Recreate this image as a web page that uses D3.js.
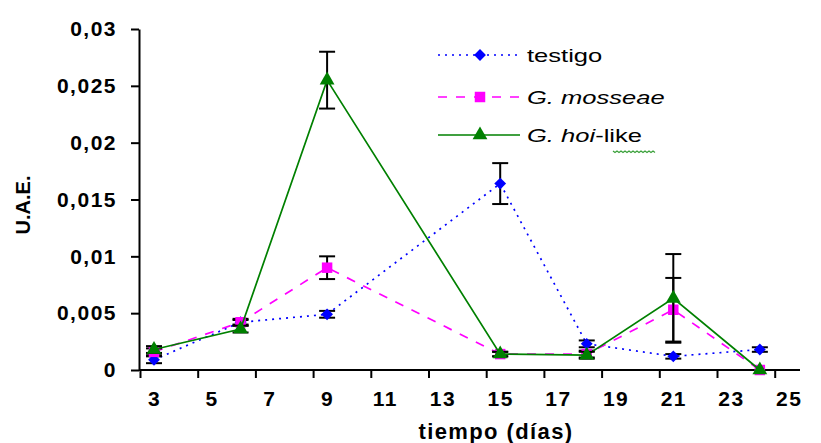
<!DOCTYPE html>
<html>
<head>
<meta charset="utf-8">
<script src="https://cdn.jsdelivr.net/npm/d3@7"></script>
<style>
  body { margin: 0; background: #fff; }
  svg { display: block; font-family: Arial, "Liberation Sans", sans-serif; }
</style>
</head>
<body>
<svg id="chart" width="821" height="443"></svg>
<script>
// days (x) and values
const days = [3, 6, 9, 15, 18, 21, 24];
const testigo = [0.0009, 0.0042, 0.0049, 0.0164, 0.0023, 0.0012, 0.0018];
const testigoErr = [0.0003, 0.0002, 0.0003, 0.0018, 0.0003, 0.0002, 0.0002];
const mosseae = [0.0016, 0.0042, 0.0090, 0.0014, 0.0014, 0.0053, 0.0000];
const mosseaeErr = [0.0003, 0.0003, 0.0010, 0.0002, 0.0003, 0.0028, 0.0000];
const hoiLike = [0.0018, 0.0036, 0.0255, 0.0014, 0.0013, 0.0063, 0.0000];
const hoiLikeErr = [0.0003, 0.0003, 0.0025, 0.0002, 0.0003, 0.0039, 0.0000];
const xTicks = [3, 5, 7, 9, 11, 13, 15, 17, 19, 21, 23, 25];
const yTicks = [0, 0.005, 0.01, 0.015, 0.02, 0.025, 0.03];
const yTickLabels = ["0", "0,005", "0,01", "0,015", "0,02", "0,025", "0,03"];

const svg = d3.select("#chart");
const axisLeftX = 139, axisBottomY = 370;

const x = d3.scaleLinear().domain([3, 25]).range([154, 154 + 22 * 28.85]);
const y = d3.scaleLinear().domain([0, 0.03]).range([axisBottomY, 29]);

// y axis
const yAxis = d3.axisLeft(y).tickValues(yTicks)
  .tickFormat((d, i) => yTickLabels[i]).tickSize(8).tickSizeOuter(0).tickPadding(14);
const gy = svg.append("g").attr("transform", `translate(${axisLeftX},0)`).call(yAxis);
gy.select(".domain").attr("stroke", "#000").attr("stroke-width", 2);
gy.selectAll(".tick line").attr("stroke", "#000").attr("stroke-width", 2);
gy.selectAll(".tick text").attr("font-size", 21).attr("font-weight", "bold")
  .attr("letter-spacing", 1.5).attr("fill", "#000");

// x axis (Excel style: tick marks sit between the label slots)
const xAxis = d3.axisBottom(x).tickValues(xTicks).tickSize(8).tickSizeOuter(0).tickPadding(13);
const gx = svg.append("g").attr("transform", `translate(0,${axisBottomY})`).call(xAxis);
gx.select(".domain").attr("d", `M${axisLeftX},0H800`).attr("stroke", "#000").attr("stroke-width", 2);
gx.selectAll(".tick line").attr("x1", -14).attr("x2", -14).attr("stroke", "#000").attr("stroke-width", 2);
gx.selectAll(".tick text").attr("font-size", 21).attr("font-weight", "bold")
  .attr("letter-spacing", 1.5).attr("fill", "#000");

// axis titles
svg.append("text")
  .attr("transform", "translate(30,205) rotate(-90)")
  .attr("text-anchor", "middle").attr("font-size", 20).attr("font-weight", "bold")
  .text("U.A.E.");
svg.append("text")
  .attr("x", 496).attr("y", 439).attr("text-anchor", "middle")
  .attr("font-size", 22).attr("font-weight", "bold").attr("letter-spacing", 1.4)
  .text("tiempo (días)");

// diamond = square turned 45deg (wider than d3.symbolDiamond)
const series = [
  { name: "testigo", values: testigo, err: testigoErr, color: "#0000ff", dash: "2,5", symbol: d3.symbolSquare, size: 70, rot: 45 },
  { name: "mosseae", values: mosseae, err: mosseaeErr, color: "#ff00ff", dash: "9,9", symbol: d3.symbolSquare, size: 110, rot: 0 },
  { name: "hoi", values: hoiLike, err: hoiLikeErr, color: "#008000", dash: null, symbol: d3.symbolTriangle, size: 95, rot: 0 }
];

const line = d3.line().x((d, i) => x(days[i])).y(d => y(d));

series.forEach(s => {
  const g = svg.append("g");
  g.append("path").attr("d", line(s.values))
    .attr("fill", "none").attr("stroke", s.color).attr("stroke-width", 1.7)
    .attr("stroke-dasharray", s.dash);

  // error bars
  const eb = g.selectAll(".err").data(s.values.map((v, i) => ({ v, e: s.err[i], d: days[i] })).filter(o => o.e > 0))
    .join("g").attr("class", "err");
  eb.append("line").attr("x1", o => x(o.d)).attr("x2", o => x(o.d))
    .attr("y1", o => y(o.v - o.e)).attr("y2", o => y(o.v + o.e))
    .attr("stroke", "#000").attr("stroke-width", 2);
  [1, -1].forEach(sign => {
    eb.append("line").attr("x1", o => x(o.d) - 8).attr("x2", o => x(o.d) + 8)
      .attr("y1", o => y(o.v + sign * o.e)).attr("y2", o => y(o.v + sign * o.e))
      .attr("stroke", "#000").attr("stroke-width", 2);
  });

  g.selectAll(".mk").data(s.values).join("path").attr("class", "mk")
    .attr("d", d3.symbol().type(s.symbol).size(s.size))
    .attr("transform", (d, i) => `translate(${x(days[i])},${y(d)}) rotate(${s.rot})`)
    .attr("fill", s.color);
});

// legend
const legendY = [55, 97, 135];
series.forEach((s, i) => {
  const g = svg.append("g").attr("transform", `translate(438,${legendY[i]})`);
  g.append("line").attr("x1", 0).attr("x2", 82)
    .attr("stroke", s.color).attr("stroke-width", 1.7).attr("stroke-dasharray", s.dash);
  g.append("path").attr("d", d3.symbol().type(s.symbol).size(s.size)())
    .attr("transform", `translate(42,0) rotate(${s.rot})`).attr("fill", s.color);
});

const legendText = (i) => svg.append("text")
  .attr("transform", `translate(527,${legendY[i] + 7}) scale(1.42,1)`)
  .attr("font-size", 18).attr("fill", "#000");

legendText(0).text("testigo");
legendText(1).append("tspan").attr("font-style", "italic").text("G. mosseae");
const t3 = legendText(2);
t3.append("tspan").attr("font-style", "italic").text("G. hoi");
t3.append("tspan").text("-like");

// spell-check squiggle under "like"
const wave = d3.range(0, 44, 2).map((d, i) => [613 + d, 151 + (i % 2 ? 1.5 : 0)]);
svg.append("path").attr("d", d3.line()(wave))
  .attr("fill", "none").attr("stroke", "#3aa03a").attr("stroke-width", 1.2);
</script>
</body>
</html>
